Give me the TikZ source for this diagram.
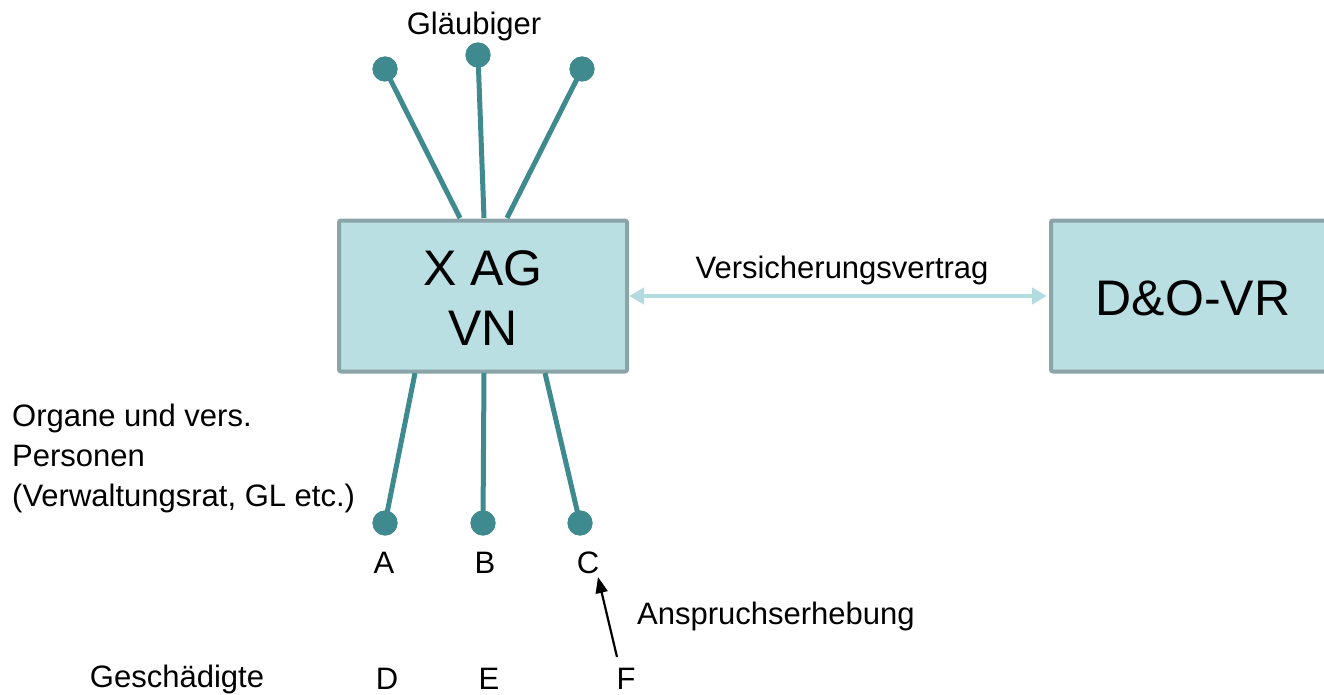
\documentclass[tikz,border=0pt]{standalone}
\usepackage{fontspec}
\setmainfont{Liberation Sans}
\usetikzlibrary{arrows.meta}
\definecolor{boxfill}{HTML}{BADFE3}
\definecolor{boxline}{HTML}{8AA4A7}
\definecolor{pin}{HTML}{3E8A8F}
\definecolor{contract}{HTML}{B2DCE0}
\tikzset{
  bigbox/.style={draw=boxline, fill=boxfill, line width=4pt, rounded corners=2pt, inner sep=0pt},
  boxtext/.style={font=\fontsize{50}{60}\selectfont, align=center},
  lbl/.style={font=\fontsize{31}{40}\selectfont, inner sep=0pt},
  pinhead/.style={circle, fill=pin, minimum size=25pt, inner sep=0pt},
  pinline/.style={draw=pin, line width=5pt},
  contractarrow/.style={draw=contract, line width=4pt, {Triangle[length=15pt,width=16pt]}-{Triangle[length=15pt,width=16pt]}},
  claimarrow/.style={draw=black, line width=2.2pt, -{Triangle[length=16pt,width=12pt]}}
}
\begin{document}
\begin{tikzpicture}[x=1pt,y=-1pt]
\useasboundingbox (0,0) rectangle (1324,695);
\begin{scope}
\clip (0,0) rectangle (1324,695);
% boxes
\node[bigbox, minimum width=288pt, minimum height=151pt] (xag) at (483,296) {};
\node[boxtext] (xagtext) at (483,298) {X AG\\VN};
\node[bigbox, minimum width=300pt, minimum height=151pt, anchor=west] (dovr) at (1049,296) {};
\node[boxtext] (dovrtext) at (1193,298) {D\&O-VR};
\end{scope}
% contract arrow
\coordinate (cl) at (629,296);
\coordinate (cr) at (1047,296);
\draw[contractarrow] (cl) -- (cr);
\node[lbl] (vv) at (842,270) {Versicherungsvertrag};
% top pins
\coordinate (t1) at (460,218);
\coordinate (t2) at (484,218);
\coordinate (t3) at (507,218);
\node[pinhead] (g1) at (385,69) {};
\node[pinhead] (g2) at (478,55) {};
\node[pinhead] (g3) at (582,69) {};
\draw[pinline] (t1) -- (g1.center);
\draw[pinline] (t2) -- (g2.center);
\draw[pinline] (t3) -- (g3.center);
\node[pinhead] at (g1) {};
\node[pinhead] at (g2) {};
\node[pinhead] at (g3) {};
\node[lbl] (glaeub) at (474,26) {Gläubiger};
% bottom pins
\coordinate (b1) at (415,373);
\coordinate (b2) at (484,373);
\coordinate (b3) at (545,373);
\node[pinhead] (pa) at (385,523) {};
\node[pinhead] (pb) at (483,523) {};
\node[pinhead] (pc) at (580,523) {};
\draw[pinline] (b1) -- (pa.center);
\draw[pinline] (b2) -- (pb.center);
\draw[pinline] (b3) -- (pc.center);
\node[pinhead] at (pa) {};
\node[pinhead] at (pb) {};
\node[pinhead] at (pc) {};
% labels
\node[lbl] (A) at (384,563) {A};
\node[lbl] (B) at (485,563) {B};
\node[lbl] (C) at (588,563) {C};
\node[lbl] (D) at (387,679) {D};
\node[lbl] (E) at (489,679) {E};
\node[lbl] (F) at (626,679) {F};
\node[lbl, anchor=west, align=left] (organe) at (12,458) {Organe und vers.\\Personen\\(Verwaltungsrat, GL etc.)};
\node[lbl] (gesch) at (177,679) {Geschädigte};
\node[lbl, anchor=west] (anspr) at (637,616) {Anspruchserhebung};
% claim arrow
\coordinate (ftop) at (617,657);
\coordinate (cbot) at (598,577);
\draw[claimarrow] (ftop) -- (cbot);
\end{tikzpicture}
\end{document}
